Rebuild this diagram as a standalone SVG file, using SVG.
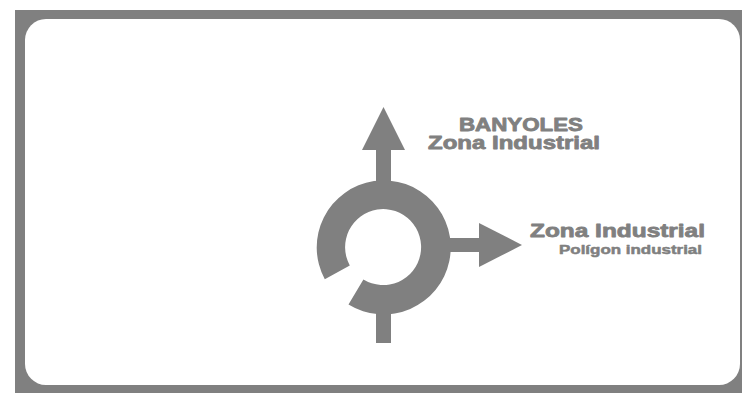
<svg xmlns="http://www.w3.org/2000/svg" width="744" height="393" viewBox="0 0 744 393">
  <style>
    .g { fill: #808080; }
    .t { fill: #808080; stroke: #808080; stroke-width: 0.8; stroke-linejoin: round; font-family: "Liberation Sans", Arial, sans-serif; font-weight: bold; }
    .s { stroke-width: 0.5; }
  </style>
  <rect width="744" height="393" fill="#ffffff"/>
  <g id="frame">
    <rect class="g" x="15" y="10" width="727" height="383"/>
    <rect x="25" y="19" width="715" height="366" rx="21" ry="21" fill="#ffffff"/>
  </g>
  <g id="roundabout">
    <path class="g" d="M324.8,279.3 A67,67 0 1 1 348.5,304.4 L363.4,279.6 A38,38 0 1 0 349.8,265.4 Z"/>
  </g>
  <g id="connectors">
    <g id="arrow-north">
      <rect class="g" x="376" y="148" width="15" height="40"/>
      <polygon class="g" points="383.5,107 362,150 405,150"/>
    </g>
    <g id="arrow-east">
      <rect class="g" x="440" y="238" width="41" height="14"/>
      <polygon class="g" points="522,245 479,223 479,267"/>
    </g>
    <g id="road-south">
      <rect class="g" x="376" y="305" width="15" height="38"/>
    </g>
  </g>
  <g id="label-north">
    <text class="t" x="459" y="131" font-size="18" textLength="124" lengthAdjust="spacingAndGlyphs">BANYOLES</text>
    <text class="t" x="428" y="149" font-size="18" textLength="172" lengthAdjust="spacingAndGlyphs">Zona Industrial</text>
  </g>
  <g id="label-east">
    <text class="t" x="530" y="237" font-size="19" textLength="175" lengthAdjust="spacingAndGlyphs">Zona Industrial</text>
    <text class="t s" x="559" y="254" font-size="12.5" textLength="143" lengthAdjust="spacingAndGlyphs">Polígon industrial</text>
  </g>
</svg>
